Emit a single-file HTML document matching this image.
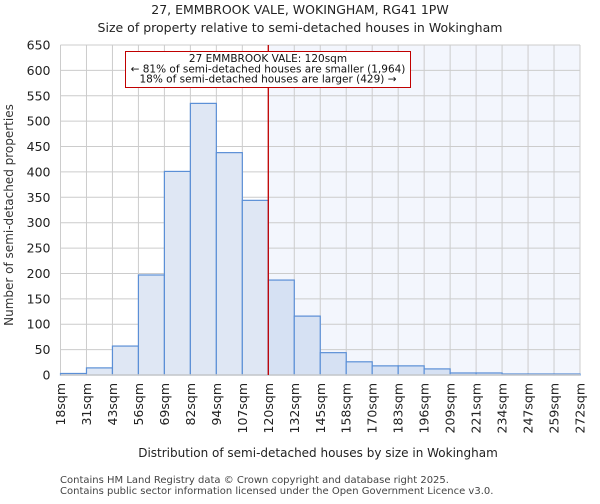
<!DOCTYPE html>
<html><head><meta charset="utf-8"><style>
body{margin:0;background:#fff;font-family:"DejaVu Sans","Liberation Sans",sans-serif;}
</style></head><body>
<svg width="600" height="500" xmlns="http://www.w3.org/2000/svg" font-family="DejaVu Sans, Liberation Sans, sans-serif">
<text x="300" y="14" text-anchor="middle" font-size="12.5" fill="#222">27, EMMBROOK VALE, WOKINGHAM, RG41 1PW</text>
<text x="300" y="32" text-anchor="middle" font-size="12.5" fill="#222">Size of property relative to semi-detached houses in Wokingham</text>
<g id="plot"></g>
<text x="318" y="457" text-anchor="middle" font-size="12" fill="#222">Distribution of semi-detached houses by size in Wokingham</text>
<text transform="translate(13,215) rotate(-90)" text-anchor="middle" font-size="12" fill="#333">Number of semi-detached properties</text>
<text x="60" y="483" font-size="10" fill="#444">Contains HM Land Registry data © Crown copyright and database right 2025.</text>
<text x="60" y="494" font-size="10" fill="#444">Contains public sector information licensed under the Open Government Licence v3.0.</text>
</svg>
<script>
const categories=["18sqm","31sqm","43sqm","56sqm","69sqm","82sqm","94sqm","107sqm","120sqm","132sqm","145sqm","158sqm","170sqm","183sqm","196sqm","209sqm","221sqm","234sqm","247sqm","259sqm","272sqm"];
const counts=[3,14,57,197,401,535,438,344,187,116,44,26,18,18,12,4,4,2,2,2];
const yTicks=[0,50,100,150,200,250,300,350,400,450,500,550,600,650];
const markerIndex=8;
const annotation=["27 EMMBROOK VALE: 120sqm","← 81% of semi-detached houses are smaller (1,964)","18% of semi-detached houses are larger (429) →"];
const NS="http://www.w3.org/2000/svg";
const L=60.5,R=580,T=45,B=375,yMax=650;
const bw=(R-L)/counts.length;
const x=i=>L+i*bw;
const y=v=>B-(v/yMax)*(B-T);
const g=document.getElementById('plot');
function mk(t,a){const e=document.createElementNS(NS,t);for(const k in a)e.setAttribute(k,a[k]);g.appendChild(e);return e;}
let e=mk('rect',{x:x(markerIndex),y:T,width:R-x(markerIndex),height:B-T,fill:'#f3f6fd'});


yTicks.forEach(v=>{
 let l=mk('line',{x1:L,x2:R,y1:y(v),y2:y(v),stroke:'#cccccc','stroke-width':1});
 
 
 let t=mk('text',{x:L-10,y:y(v)+4.5,'text-anchor':'end','font-size':12.5,fill:'#222'});
 t.textContent=v;
 
 
});
categories.forEach((c,i)=>{
 let l=mk('line',{x1:x(i),x2:x(i),y1:T,y2:B,stroke:'#cccccc','stroke-width':1});
 
 
 let t=mk('text',{transform:`translate(${x(i)+4.5},${B+8}) rotate(-90)`,'text-anchor':'end','font-size':12.5,fill:'#222'});
 t.textContent=c;
 
 
});
counts.forEach((v,i)=>{
 let r=mk('rect',{x:x(i),y:y(v),width:bw,height:B-y(v),fill:i>=markerIndex?'#d6e1f3':'#dfe7f4',stroke:'#5b8fd6','stroke-width':1.2});
 
 
});
e=mk('line',{x1:L,x2:R,y1:B,y2:B,stroke:'#cccccc','stroke-width':1.5});


e=mk('line',{x1:x(markerIndex),x2:x(markerIndex),y1:T,y2:B,stroke:'#c00000','stroke-width':1.3});


e=mk('rect',{x:125.5,y:51.5,width:285,height:36,fill:'#fff',stroke:'#c00000','stroke-width':1});


annotation.forEach((s,k)=>{
 let t=mk('text',{x:268,y:62+k*10.3,'text-anchor':'middle','font-size':10.5,fill:'#111'});
 t.textContent=s;
 
 
});
</script>
</body></html>
